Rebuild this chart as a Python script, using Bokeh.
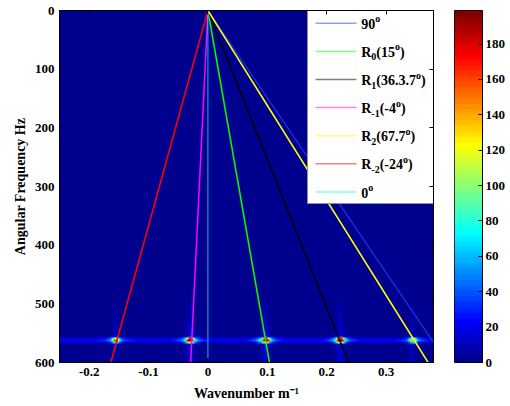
import numpy as np
from bokeh.plotting import figure
from bokeh.layouts import row
from bokeh.models import Range1d, LinearAxis, FixedTicker, ColumnDataSource, LinearColorMapper
from bokeh.embed import file_html
from bokeh.resources import INLINE
from bokeh.core.properties import value

# ---------------- data ----------------
x_ticks = [-0.2, -0.1, 0.0, 0.1, 0.2, 0.3]
x_tick_labels = ["-0.2", "-0.1", "0", "0.1", "0.2", "0.3"]
y_ticks = [0, 100, 200, 300, 400, 500, 600]
cbar_ticks = [0, 20, 40, 60, 80, 100, 120, 140, 160, 180]

line_colors = ["#2040ff", "#00ff00", "#000000", "#ff00ff", "#ffff00", "#ff0000", "#00ffff"]
line_k_end = [0.403, 0.1037, 0.237, -0.029, 0.371, -0.1635, 0.0]   # wavenumber at end point
line_w_end = [600, 600, 600, 600, 600, 600, 593]                    # angular frequency at end point

# legend labels as (text, kind) parts: n = normal, sub = subscript, sup = superscript
legend_parts = [
    [("90", "n"), ("o", "sup")],
    [("R", "n"), ("0", "sub"), ("(15", "n"), ("o", "sup"), (")", "n")],
    [("R", "n"), ("1", "sub"), ("(36.3.7", "n"), ("o", "sup"), (")", "n")],
    [("R", "n"), ("-1", "sub"), ("(-4", "n"), ("o", "sup"), (")", "n")],
    [("R", "n"), ("2", "sub"), ("(67.7", "n"), ("o", "sup"), (")", "n")],
    [("R", "n"), ("-2", "sub"), ("(-24", "n"), ("o", "sup"), (")", "n")],
    [("0", "n"), ("o", "sup")],
]
x_label = "Wavenumber m\u207b\u00b9"
y_label = "Angular Frequency Hz"

spot_k = [-0.155, -0.030, 0.097, 0.223, 0.346]
spot_w = [562, 562, 562, 562, 562]
spot_peak = [110, 180, 180, 170, 95]
streak_level = 24

x_lo, x_hi = -0.25, 0.38
y_lo, y_hi = 0, 600
c_hi = 199

FONT = "Liberation Serif"

# ---------------- colormap (MATLAB jet, 64) ----------------
def jet(m=64):
    n = int(np.ceil(m / 4))
    u = np.concatenate([np.arange(1, n + 1) / n, np.ones(n - 1), np.arange(n, 0, -1) / n])
    g = int(np.ceil(n / 2)) - (1 if m % 4 == 1 else 0) + np.arange(1, len(u) + 1)
    r = g + n
    b = g - n
    J = np.zeros((m, 3))
    for i in range(len(u)):
        if 1 <= g[i] <= m:
            J[g[i] - 1, 1] = u[i]
        if 1 <= r[i] <= m:
            J[r[i] - 1, 0] = u[i]
        if 1 <= b[i] <= m:
            J[b[i] - 1, 2] = u[i]
    return ["#%02x%02x%02x" % tuple(int(round(c * 255)) for c in rr) for rr in J]

pal = jet(64)
mapper = LinearColorMapper(palette=pal, low=0, high=c_hi)

# ---------------- spectrum image ----------------
nk, nw = 180, 200
dk = (x_hi - x_lo) / nk
dw = (y_hi - y_lo) / nw
kk = x_lo + dk * (np.arange(nk) + 0.5)
ww = y_lo + dw * (np.arange(nw) + 0.5)
K, Wg = np.meshgrid(kk, ww)
Z = streak_level * np.exp(-0.5 * ((Wg - spot_w[0]) / 2.6) ** 2)
for k0, w0, pk in zip(spot_k, spot_w, spot_peak):
    Z += pk * np.exp(-0.5 * ((K - k0) / 0.0042) ** 2 - 0.5 * ((Wg - w0) / 2.6) ** 2)
    Z += 0.3 * pk * np.exp(-0.5 * ((K - k0) / 0.012) ** 2 - 0.5 * ((Wg - w0) / 3.4) ** 2)
    Z += 0.08 * pk * np.exp(-0.5 * ((K - k0) / 0.005) ** 2) * np.clip((Wg - 470) / 80, 0, 1)

# ---------------- main figure ----------------
FL, FR, FT, FB = 59, 12, 10, 43
FW, FH = 374, 352
p = figure(width=FL + FW + FR, height=FT + FH + FB, output_backend="svg", toolbar_location=None,
           x_range=Range1d(x_lo, x_hi), y_range=Range1d(y_hi, y_lo),
           min_border_left=FL, min_border_right=FR, min_border_top=FT, min_border_bottom=FB)
p.grid.visible = False
p.outline_line_color = "black"
p.image(image=[Z], x=x_lo, y=y_lo, dw=x_hi - x_lo, dh=y_hi - y_lo, color_mapper=mapper)

for c, ke, we in zip(line_colors, line_k_end, line_w_end):
    if c == "#00ffff":
        p.line([0, ke], [0, we], line_color=c, line_width=1.0, line_alpha=0.75)
    elif c == "#2040ff":
        p.line([0, ke], [0, we], line_color=c, line_width=1.3, line_alpha=0.8)
    else:
        p.line([0, ke], [0, we], line_color=c, line_width=1.5)

# pixel (reference) -> data helpers
def kx(px):
    return x_lo + (px - FL) / FW * (x_hi - x_lo)

def wy(py):
    return y_lo + (py - FT) / FH * (y_hi - y_lo)

# legend box
p.quad(left=[kx(307)], right=[x_hi], top=[y_lo], bottom=[wy(203)],
       fill_color="white", line_color="#909090", line_width=1)

# approximate Times-bold advance widths (em)
WID = {"R": 0.722, "o": 0.5, "(": 0.333, ")": 0.333, ".": 0.25, "-": 0.333, " ": 0.25}
for d in "0123456789":
    WID[d] = 0.5

def tw(s, fs):
    return sum(WID.get(ch, 0.5) for ch in s) * fs

FS_N, FS_S = 14, 10
tx, ty, tt, tfs, tyo = [], [], [], [], []
for i, parts in enumerate(legend_parts):
    ly = 22.8 + i * 28.1
    p.line([kx(315), kx(356)], [wy(ly), wy(ly)], line_color=line_colors[i], line_width=1.5, line_alpha=0.5)
    cx = 360.7
    for s, kind in parts:
        fs = FS_N if kind == "n" else FS_S
        off = 0 if kind == "n" else (4.5 if kind == "sub" else -5.5)
        tx.append(kx(cx)); ty.append(wy(ly + 1)); tt.append(s); tfs.append("%dpx" % fs); tyo.append(off)
        cx += tw(s, fs)
src = ColumnDataSource(dict(x=tx, y=ty, text=tt, fs=tfs, yo=tyo))
p.text(x="x", y="y", text="text", source=src, text_font=value(FONT), text_font_style="bold",
       text_font_size="fs", y_offset="yo", text_baseline="middle", text_align="left", text_color="black")

# axes
for ax in (p.xaxis[0], p.yaxis[0]):
    ax.major_tick_in = 4
    ax.major_tick_out = 0
    ax.minor_tick_line_color = None
    ax.major_label_text_font = FONT
    ax.major_label_text_font_style = "bold"
    ax.major_label_text_font_size = "13px"
    ax.major_label_text_color = "black"
    ax.axis_line_color = "black"
    ax.major_tick_line_color = "black"
    ax.major_label_standoff = 5
    ax.axis_label_text_font = FONT
    ax.axis_label_text_font_style = "bold"
    ax.axis_label_text_font_size = "14px"
    ax.axis_label_text_color = "black"
p.xaxis.axis_label_standoff = 7
p.yaxis.axis_label_standoff = 4
p.xaxis.ticker = FixedTicker(ticks=x_ticks)
p.xaxis.major_label_overrides = dict(zip(x_ticks, x_tick_labels))
p.xaxis.axis_label = x_label
p.yaxis.ticker = FixedTicker(ticks=y_ticks)
p.yaxis.axis_label = y_label

for loc in ("above", "right"):
    tks = x_ticks if loc == "above" else y_ticks
    ax = LinearAxis(ticker=FixedTicker(ticks=tks))
    ax.major_tick_in = 4
    ax.major_tick_out = 0
    ax.minor_tick_line_color = None
    ax.major_label_overrides = {t: "" for t in tks}
    ax.major_label_standoff = 0
    ax.axis_line_color = "black"
    p.add_layout(ax, loc)

# ---------------- colorbar figure ----------------
CL, CW, CR = 9, 28, 26
cb = figure(width=CL + CW + CR, height=FT + FH + FB, output_backend="svg", toolbar_location=None,
            x_range=Range1d(0, 1), y_range=Range1d(0, c_hi), x_axis_location=None, y_axis_location="right",
            min_border_left=CL, min_border_right=CR, min_border_top=FT, min_border_bottom=FB)
cb.grid.visible = False
cb.outline_line_color = "black"
bands = (np.arange(64) + 0.5) * c_hi / 64
cb.image(image=[bands.reshape(64, 1)], x=0, y=0, dw=1, dh=c_hi, color_mapper=mapper)
cb.yaxis.ticker = FixedTicker(ticks=cbar_ticks)
cb.yaxis.major_tick_in = 4
cb.yaxis.major_tick_out = 0
cb.yaxis.minor_tick_line_color = None
cb.yaxis.major_label_standoff = 3
cb.yaxis.major_label_text_font = FONT
cb.yaxis.major_label_text_font_style = "bold"
cb.yaxis.major_label_text_font_size = "13px"
cb.yaxis.major_label_text_color = "black"
cb.yaxis.axis_line_color = "black"
cb.yaxis.major_tick_line_color = "black"

lay = row(p, cb)
open("out.html", "w").write(file_html(lay, INLINE))
